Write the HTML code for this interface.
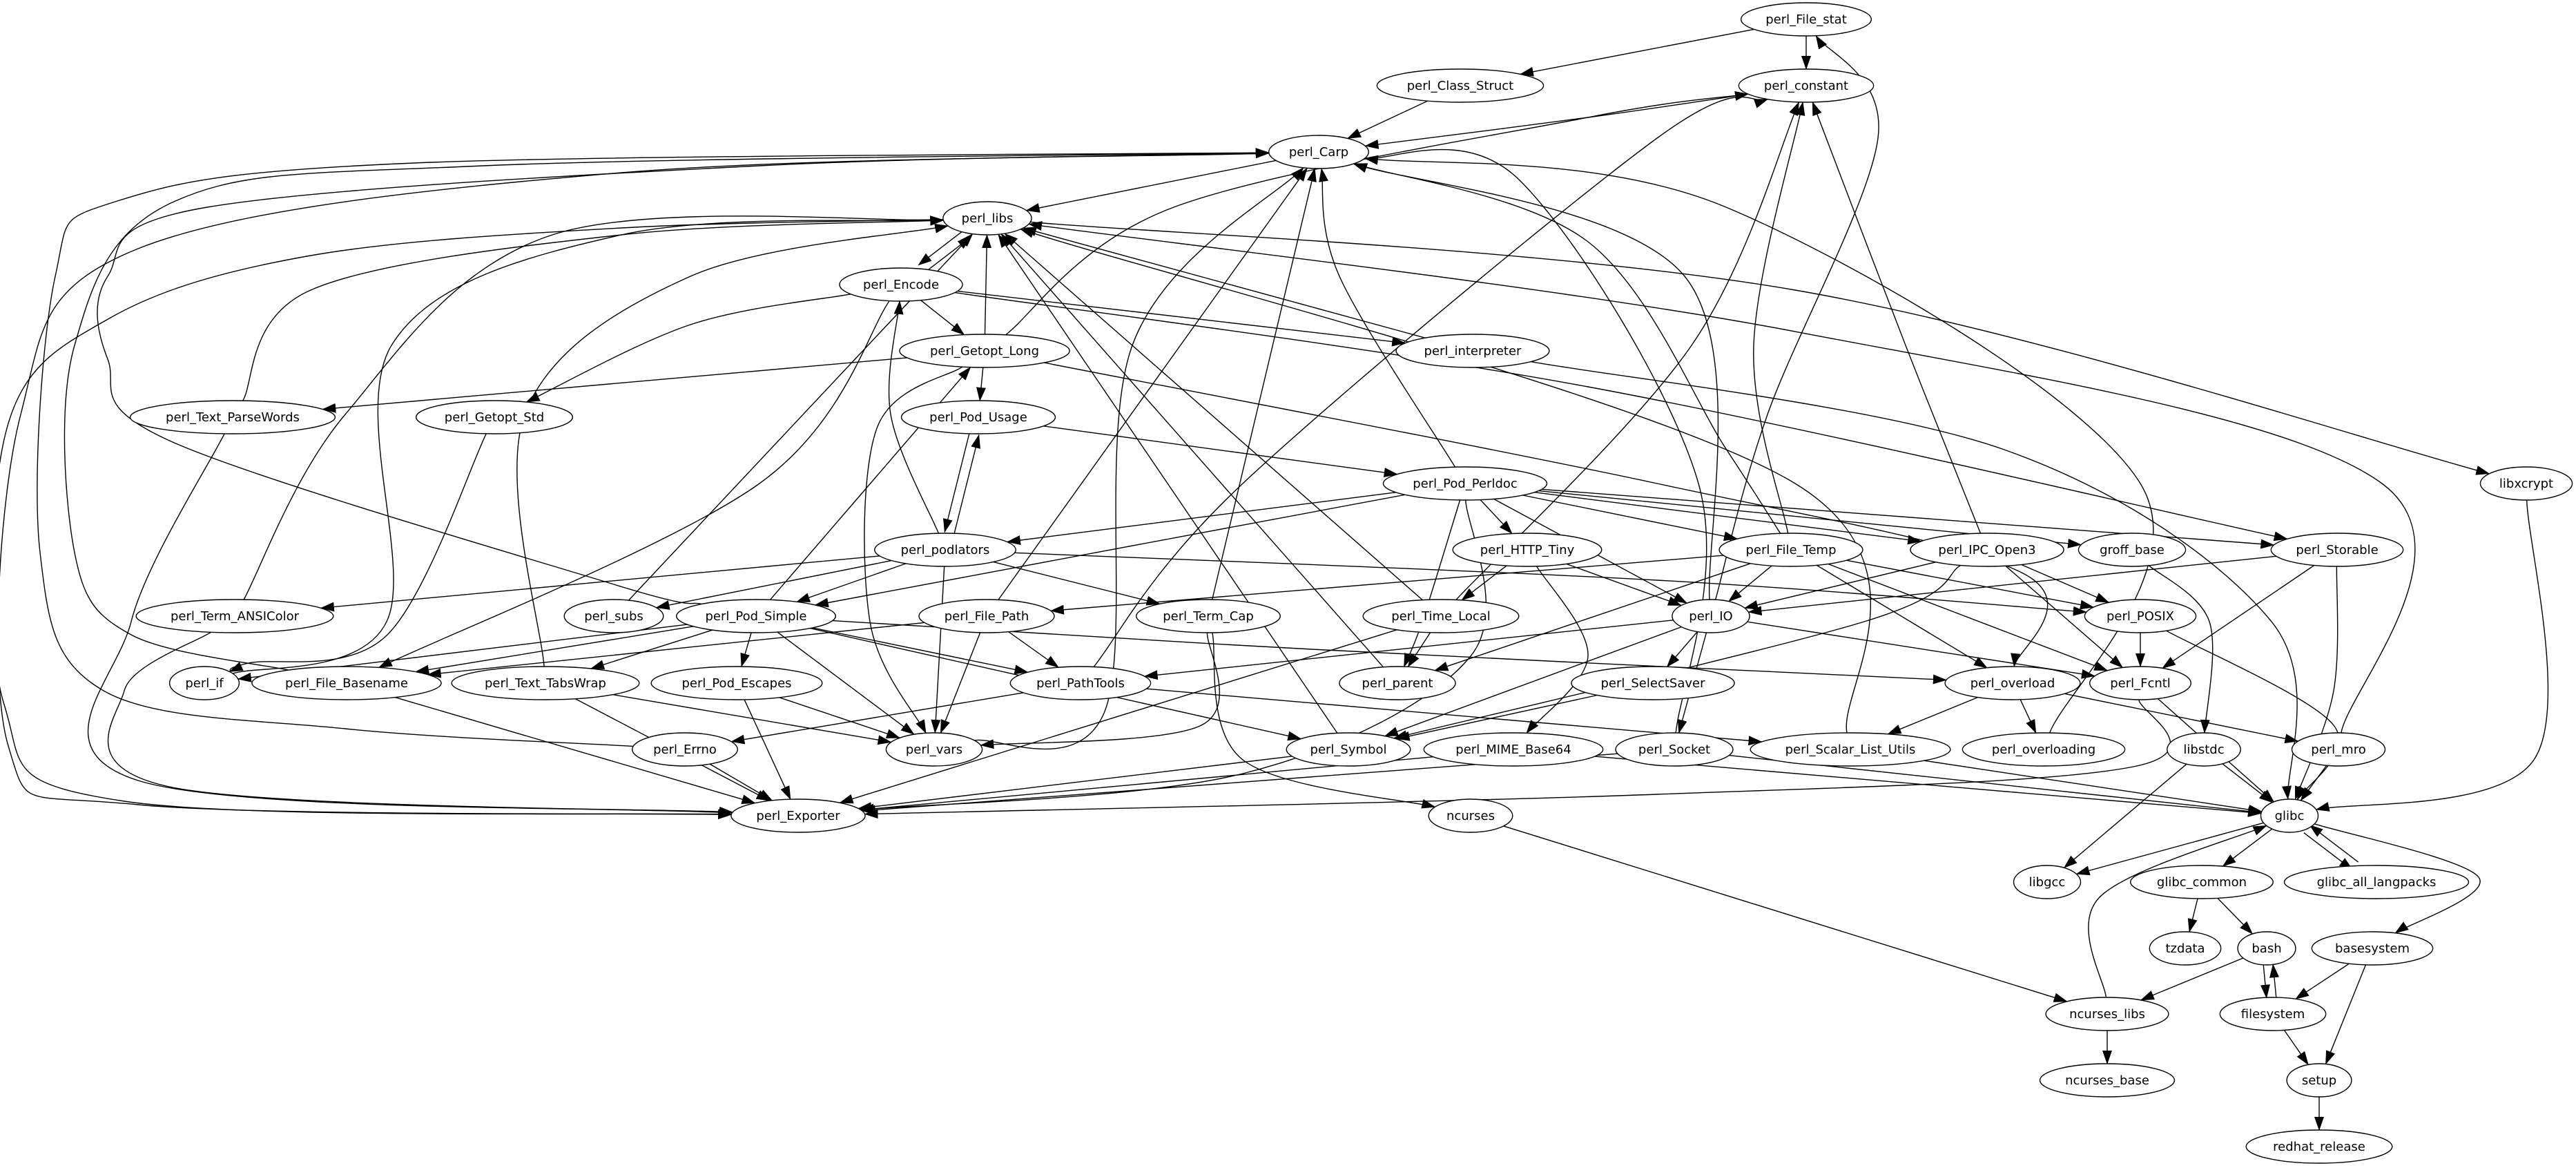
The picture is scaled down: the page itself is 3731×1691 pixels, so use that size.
<!DOCTYPE html>
<html><head><meta charset="utf-8">
<style>
html,body{margin:0;padding:0;background:#fff;}
svg{display:block;}
text{font-family:"DejaVu Sans","Liberation Sans",sans-serif;font-size:18px;text-anchor:middle;fill:#000;}
ellipse{fill:#fff;stroke:#000;stroke-width:1.4;}
.e{fill:none;stroke:#000;stroke-width:1.4;}
</style></head>
<body>
<svg id="S" width="3731" height="1691" viewBox="0 0 3731 1691" xmlns="http://www.w3.org/2000/svg">
<defs><marker id="ah" markerWidth="20" markerHeight="14" refX="19" refY="7" orient="auto" markerUnits="userSpaceOnUse"><path d="M0,0L20,7L0,14z" fill="#000"/></marker></defs>
<g id="E"></g>
<g id="N">
<g id="File_stat"><ellipse cx="2616" cy="28" rx="105" ry="24"/><text x="2616" y="34">perl_File_stat</text></g>
<g id="constant"><ellipse cx="2616" cy="124" rx="99" ry="24"/><text x="2616" y="130">perl_constant</text></g>
<g id="Class_Struct"><ellipse cx="2115" cy="124" rx="120" ry="24"/><text x="2115" y="130">perl_Class_Struct</text></g>
<g id="Carp"><ellipse cx="1910" cy="220" rx="72" ry="24"/><text x="1910" y="226">perl_Carp</text></g>
<g id="libs"><ellipse cx="1430" cy="316" rx="64" ry="24"/><text x="1430" y="322">perl_libs</text></g>
<g id="Encode"><ellipse cx="1305" cy="412" rx="85" ry="24"/><text x="1305" y="418">perl_Encode</text></g>
<g id="Getopt_Long"><ellipse cx="1426" cy="508" rx="119" ry="24"/><text x="1426" y="514">perl_Getopt_Long</text></g>
<g id="interpreter"><ellipse cx="2133" cy="508" rx="110" ry="24"/><text x="2133" y="514">perl_interpreter</text></g>
<g id="Text_ParseWords"><ellipse cx="337" cy="604" rx="142" ry="24"/><text x="337" y="610">perl_Text_ParseWords</text></g>
<g id="Getopt_Std"><ellipse cx="716" cy="604" rx="110" ry="24"/><text x="716" y="610">perl_Getopt_Std</text></g>
<g id="Pod_Usage"><ellipse cx="1417" cy="604" rx="108" ry="24"/><text x="1417" y="610">perl_Pod_Usage</text></g>
<g id="Pod_Perldoc"><ellipse cx="2122" cy="700" rx="116" ry="24"/><text x="2122" y="706">perl_Pod_Perldoc</text></g>
<g id="libxcrypt"><ellipse cx="3659" cy="700" rx="65" ry="24"/><text x="3659" y="706">libxcrypt</text></g>
<g id="podlators"><ellipse cx="1369" cy="796" rx="100" ry="24"/><text x="1369" y="802">perl_podlators</text></g>
<g id="HTTP_Tiny"><ellipse cx="2212" cy="796" rx="105" ry="24"/><text x="2212" y="802">perl_HTTP_Tiny</text></g>
<g id="File_Temp"><ellipse cx="2594" cy="796" rx="101" ry="24"/><text x="2594" y="802">perl_File_Temp</text></g>
<g id="IPC_Open3"><ellipse cx="2878" cy="796" rx="108" ry="24"/><text x="2878" y="802">perl_IPC_Open3</text></g>
<g id="groff_base"><ellipse cx="3088" cy="796" rx="77" ry="24"/><text x="3088" y="802">groff_base</text></g>
<g id="Storable"><ellipse cx="3385" cy="796" rx="94" ry="24"/><text x="3385" y="802">perl_Storable</text></g>
<g id="Term_ANSIColor"><ellipse cx="340" cy="892" rx="132" ry="24"/><text x="340" y="898">perl_Term_ANSIColor</text></g>
<g id="subs"><ellipse cx="889" cy="892" rx="68" ry="24"/><text x="889" y="898">perl_subs</text></g>
<g id="Pod_Simple"><ellipse cx="1095" cy="892" rx="106" ry="24"/><text x="1095" y="898">perl_Pod_Simple</text></g>
<g id="File_Path"><ellipse cx="1429" cy="892" rx="95" ry="24"/><text x="1429" y="898">perl_File_Path</text></g>
<g id="Term_Cap"><ellipse cx="1750" cy="892" rx="101" ry="24"/><text x="1750" y="898">perl_Term_Cap</text></g>
<g id="Time_Local"><ellipse cx="2087" cy="892" rx="109" ry="24"/><text x="2087" y="898">perl_Time_Local</text></g>
<g id="IO"><ellipse cx="2478" cy="892" rx="58" ry="24"/><text x="2478" y="898">perl_IO</text></g>
<g id="POSIX"><ellipse cx="3100" cy="892" rx="82" ry="24"/><text x="3100" y="898">perl_POSIX</text></g>
<g id="if"><ellipse cx="296" cy="989" rx="48" ry="24"/><text x="296" y="995">perl_if</text></g>
<g id="File_Basename"><ellipse cx="502" cy="989" rx="125" ry="24"/><text x="502" y="995">perl_File_Basename</text></g>
<g id="Text_TabsWrap"><ellipse cx="790" cy="989" rx="125" ry="24"/><text x="790" y="995">perl_Text_TabsWrap</text></g>
<g id="Pod_Escapes"><ellipse cx="1067" cy="989" rx="115" ry="24"/><text x="1067" y="995">perl_Pod_Escapes</text></g>
<g id="PathTools"><ellipse cx="1565" cy="989" rx="98" ry="24"/><text x="1565" y="995">perl_PathTools</text></g>
<g id="parent"><ellipse cx="2024" cy="989" rx="82" ry="24"/><text x="2024" y="995">perl_parent</text></g>
<g id="SelectSaver"><ellipse cx="2394" cy="989" rx="112" ry="24"/><text x="2394" y="995">perl_SelectSaver</text></g>
<g id="overload"><ellipse cx="2915" cy="989" rx="95" ry="24"/><text x="2915" y="995">perl_overload</text></g>
<g id="Fcntl"><ellipse cx="3100" cy="989" rx="78" ry="24"/><text x="3100" y="995">perl_Fcntl</text></g>
<g id="Errno"><ellipse cx="992" cy="1085" rx="75" ry="24"/><text x="992" y="1091">perl_Errno</text></g>
<g id="vars"><ellipse cx="1353" cy="1085" rx="68" ry="24"/><text x="1353" y="1091">perl_vars</text></g>
<g id="Symbol"><ellipse cx="1953" cy="1085" rx="88" ry="24"/><text x="1953" y="1091">perl_Symbol</text></g>
<g id="MIME_Base64"><ellipse cx="2192" cy="1085" rx="126" ry="24"/><text x="2192" y="1091">perl_MIME_Base64</text></g>
<g id="Socket"><ellipse cx="2425" cy="1085" rx="82" ry="24"/><text x="2425" y="1091">perl_Socket</text></g>
<g id="Scalar_List_Utils"><ellipse cx="2680" cy="1085" rx="152" ry="24"/><text x="2680" y="1091">perl_Scalar_List_Utils</text></g>
<g id="overloading"><ellipse cx="2960" cy="1085" rx="118" ry="24"/><text x="2960" y="1091">perl_overloading</text></g>
<g id="libstdc"><ellipse cx="3192" cy="1085" rx="54" ry="24"/><text x="3192" y="1091">libstdc</text></g>
<g id="mro"><ellipse cx="3387" cy="1085" rx="67" ry="24"/><text x="3387" y="1091">perl_mro</text></g>
<g id="Exporter"><ellipse cx="1156" cy="1181" rx="92" ry="24"/><text x="1156" y="1187">perl_Exporter</text></g>
<g id="ncurses"><ellipse cx="2130" cy="1181" rx="58" ry="24"/><text x="2130" y="1187">ncurses</text></g>
<g id="glibc"><ellipse cx="3316" cy="1181" rx="43" ry="24"/><text x="3316" y="1187">glibc</text></g>
<g id="libgcc"><ellipse cx="2965" cy="1277" rx="49" ry="24"/><text x="2965" y="1283">libgcc</text></g>
<g id="glibc_common"><ellipse cx="3189" cy="1277" rx="100" ry="24"/><text x="3189" y="1283">glibc_common</text></g>
<g id="glibc_all_langpacks"><ellipse cx="3442" cy="1277" rx="129" ry="24"/><text x="3442" y="1283">glibc_all_langpacks</text></g>
<g id="tzdata"><ellipse cx="3165" cy="1373" rx="52" ry="24"/><text x="3165" y="1379">tzdata</text></g>
<g id="bash"><ellipse cx="3283" cy="1373" rx="43" ry="24"/><text x="3283" y="1379">bash</text></g>
<g id="basesystem"><ellipse cx="3436" cy="1373" rx="86" ry="24"/><text x="3436" y="1379">basesystem</text></g>
<g id="ncurses_libs"><ellipse cx="3052" cy="1468" rx="88" ry="24"/><text x="3052" y="1474">ncurses_libs</text></g>
<g id="filesystem"><ellipse cx="3292" cy="1468" rx="77" ry="24"/><text x="3292" y="1474">filesystem</text></g>
<g id="ncurses_base"><ellipse cx="3052" cy="1564" rx="97" ry="24"/><text x="3052" y="1570">ncurses_base</text></g>
<g id="setup"><ellipse cx="3359" cy="1564" rx="49" ry="24"/><text x="3359" y="1570">setup</text></g>
<g id="redhat_release"><ellipse cx="3359" cy="1660" rx="102" ry="24"/><text x="3359" y="1666">redhat_release</text></g>
</g>
</svg>
<script>
(function(){
var NS="http://www.w3.org/2000/svg";
var N={};
var gs=document.querySelectorAll("#N > g");
for(var i=0;i<gs.length;i++){
  var g=gs[i],el=g.querySelector("ellipse"),t=g.querySelector("text");
  var rx=+el.getAttribute("rx");
  try{var tw=t.getComputedTextLength(); if(tw>0){rx=Math.max(36,0.707*(tw+16)); el.setAttribute("rx",rx.toFixed(1));}}catch(e){}
  N[g.id]={x:+el.getAttribute("cx"),y:+el.getAttribute("cy"),rx:rx,ry:24};
}
var E=[
["File_stat","constant"],["File_stat","Class_Struct"],["Class_Struct","Carp"],["constant","Carp",[[2300,170]]],["Carp","libs"],
["Encode","libs"],["libs","Encode"],["libs","libxcrypt",[[2600,420]]],
["Encode","Getopt_Long"],["Encode","interpreter"],["Encode","Getopt_Std",[[1000,470]]],["Encode","File_Basename",[[1100,700]]],["Encode","Storable",[[2300,560]]],
["Getopt_Long","libs"],["Getopt_Long","constant",[[1700,300],[2300,170]]],["Getopt_Long","Pod_Usage"],["Getopt_Long","Text_ParseWords"],["Getopt_Long","vars",[[1270,620],[1260,900]]],["Getopt_Long","overload",[[2400,700],[2930,830]]],
["interpreter","libs"],["interpreter","glibc",[[2900,650],[3290,900]]],
["Text_ParseWords","libs",[[450,420],[900,340]]],["Text_ParseWords","Exporter",[[190,900],[200,1130]]],["Getopt_Std","if",[[560,920],[360,960]]],
["Pod_Usage","podlators"],["podlators","Pod_Usage"],["Pod_Usage","Pod_Perldoc"],
["Pod_Perldoc","Carp",[[1940,400]]],["Pod_Perldoc","podlators"],["Pod_Perldoc","Pod_Simple"],["Pod_Perldoc","HTTP_Tiny"],["Pod_Perldoc","File_Temp"],["Pod_Perldoc","IPC_Open3"],["Pod_Perldoc","groff_base"],["Pod_Perldoc","IO"],["Pod_Perldoc","parent",[[2060,900]]],["Pod_Perldoc","Storable"],["Pod_Perldoc","Exporter",[[2130,950],[1800,1120]]],
["podlators","Encode",[[1290,600]]],["podlators","Term_ANSIColor"],["podlators","subs"],["podlators","Pod_Simple"],["podlators","Term_Cap"],["podlators","vars"],["podlators","POSIX",[[2400,840]]],
["HTTP_Tiny","Time_Local"],["HTTP_Tiny","IO"],["HTTP_Tiny","MIME_Base64",[[2300,950]]],
["File_Temp","constant",[[2540,500]]],["File_Temp","IO"],["File_Temp","File_Path"],["File_Temp","POSIX"],["File_Temp","Fcntl"],["File_Temp","overload"],["File_Temp","parent"],["File_Temp","Carp",[[2500,650],[2300,350]]],
["IPC_Open3","constant",[[2760,500]]],["IPC_Open3","IO"],["IPC_Open3","POSIX"],["IPC_Open3","Fcntl"],["IPC_Open3","Symbol",[[2700,900]]],
["groff_base","libstdc",[[3200,900]]],
["Storable","IO"],["Storable","Fcntl"],["Storable","glibc",[[3380,1000]]],
["libxcrypt","glibc",[[3670,1100]]],
["Term_ANSIColor","libs",[[500,600],[800,340]]],["Term_ANSIColor","Exporter",[[180,1000],[250,1140]]],
["subs","libs"],
["Pod_Simple","Carp",[[889,846],[250,640],[156,520],[156,400],[300,300],[1100,240]]],["Pod_Simple","Getopt_Long"],["Pod_Simple","if"],["Pod_Simple","File_Basename"],["Pod_Simple","Text_TabsWrap"],["Pod_Simple","Pod_Escapes"],["Pod_Simple","PathTools"],["Pod_Simple","vars"],["Pod_Simple","Symbol"],["Pod_Simple","overload",[[1900,940]]],
["File_Path","Carp"],["File_Path","File_Basename"],["File_Path","PathTools"],["File_Path","vars"],
["Term_Cap","Carp"],["Term_Cap","vars",[[1740,1050]]],["Term_Cap","ncurses",[[1800,1100]]],
["Time_Local","libs"],["Time_Local","parent"],["Time_Local","constant",[[2450,500]]],["Time_Local","Exporter"],
["IO","File_stat",[[2560,600],[2720,200]]],["IO","Carp",[[2440,400]]],["IO","PathTools"],["IO","SelectSaver"],["IO","Fcntl"],["IO","Socket"],["IO","Symbol"],
["POSIX","Fcntl"],["POSIX","glibc",[[3380,1050]]],
["if","libs",[[560,900],[567,500],[900,340]]],
["File_Basename","Carp",[[190,919],[108,800],[108,500],[254,291],[700,240]]],["File_Basename","Exporter"],
["Text_TabsWrap","libs",[[760,600],[1000,400]]],["Text_TabsWrap","vars"],["Text_TabsWrap","Exporter"],
["Pod_Escapes","vars"],["Pod_Escapes","Exporter"],
["PathTools","constant",[[1800,700],[2400,200]]],["PathTools","Errno"],["PathTools","Scalar_List_Utils"],
["parent","libs"],["SelectSaver","Symbol"],
["overload","overloading"],["overload","Scalar_List_Utils"],["overload","mro"],
["Fcntl","Exporter",[[3090,1110],[2400,1150]]],["Fcntl","glibc"],
["Errno","Carp",[[500,1055],[150,1000],[58,800],[80,400],[170,291],[600,236]]],["Errno","Exporter"],
["vars","Carp",[[1600,1030],[1640,500]]],
["Symbol","libs"],["Symbol","Exporter"],
["MIME_Base64","Exporter"],["MIME_Base64","glibc"],
["Socket","Carp",[[2460,700],[2200,260]]],["Socket","Exporter"],["Socket","glibc"],
["Scalar_List_Utils","libs",[[2600,700]]],["Scalar_List_Utils","glibc"],
["overloading","Carp",[[3100,700],[2500,300]]],
["libstdc","glibc"],["libstdc","libgcc"],
["mro","libs",[[3450,700],[2600,480]]],["mro","glibc"],
["ncurses","ncurses_libs"],
["glibc","libgcc"],["glibc","glibc_common"],["glibc","glibc_all_langpacks"],["glibc","basesystem",[[3590,1270]]],
["glibc_all_langpacks","glibc"],
["glibc_common","tzdata"],["glibc_common","bash"],
["bash","ncurses_libs"],["bash","filesystem"],["filesystem","bash"],["filesystem","setup"],["basesystem","filesystem"],["basesystem","setup"],
["ncurses_libs","glibc",[[3040,1300]]],["ncurses_libs","ncurses_base"],["setup","redhat_release"],
["Carp","Exporter",[[900,250],[200,360],[30,600],[12,1080],[200,1165]]],
["libs","Exporter",[[900,330],[450,370],[160,460],[10,620],[6,1020],[180,1160]]]
];
var has={};E.forEach(function(e){has[e[0]+">"+e[1]]=1;});
function clip(n,dx,dy){var t=1/Math.sqrt((dx/n.rx)*(dx/n.rx)+(dy/n.ry)*(dy/n.ry));return [n.x+dx*t,n.y+dy*t];}
var G=document.getElementById("E");
E.forEach(function(e){
  var a=N[e[0]],b=N[e[1]];if(!a||!b)return;
  var wp=e[2]||[];
  var pts=[[a.x,a.y]].concat(wp).concat([[b.x,b.y]]);
  var p1=pts[1],pn=pts[pts.length-2];
  var s=clip(a,p1[0]-a.x,p1[1]-a.y),t=clip(b,pn[0]-b.x,pn[1]-b.y);
  if(!wp.length&&has[e[1]+">"+e[0]]){
    var dx=b.x-a.x,dy=b.y-a.y,L=Math.sqrt(dx*dx+dy*dy);var ox=-dy/L*7,oy=dx/L*7;
    s=[s[0]+ox,s[1]+oy];t=[t[0]+ox,t[1]+oy];
  }
  pts[0]=s;pts[pts.length-1]=t;
  var d="M"+pts[0][0].toFixed(1)+","+pts[0][1].toFixed(1);
  if(pts.length==2){d+="L"+pts[1][0].toFixed(1)+","+pts[1][1].toFixed(1);}
  else{
    for(var i=0;i<pts.length-1;i++){
      var p0=pts[i-1]||pts[i],q1=pts[i],q2=pts[i+1],p3=pts[i+2]||pts[i+1];
      var c1=[q1[0]+(q2[0]-p0[0])/6,q1[1]+(q2[1]-p0[1])/6],c2=[q2[0]-(p3[0]-q1[0])/6,q2[1]-(p3[1]-q1[1])/6];
      d+="C"+c1[0].toFixed(1)+","+c1[1].toFixed(1)+" "+c2[0].toFixed(1)+","+c2[1].toFixed(1)+" "+q2[0].toFixed(1)+","+q2[1].toFixed(1);
    }
  }
  var p=document.createElementNS(NS,"path");p.setAttribute("d",d);p.setAttribute("class","e");p.setAttribute("marker-end","url(#ah)");G.appendChild(p);
});
})();
</script>
</body></html>
